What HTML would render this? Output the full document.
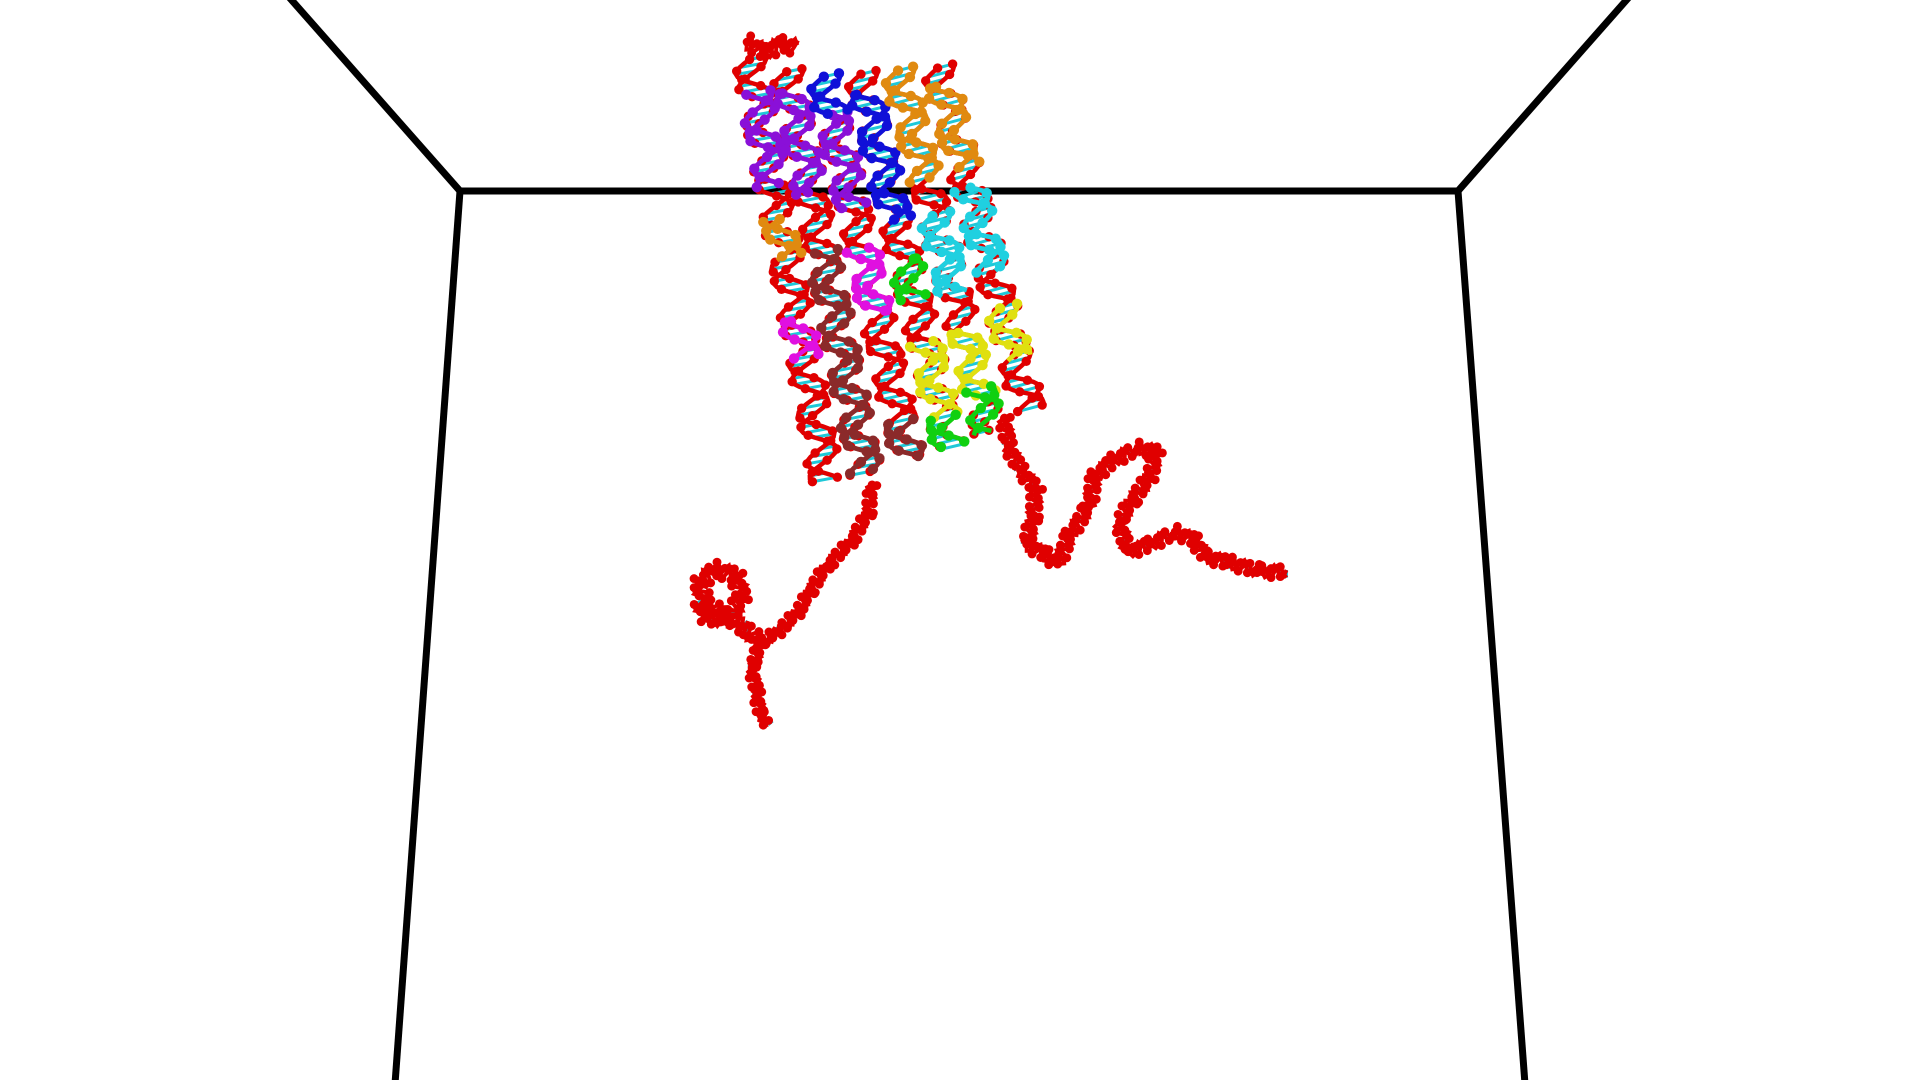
<!DOCTYPE html>
<html><head><meta charset="utf-8"><style>
html,body{margin:0;padding:0;background:#fff;width:1920px;height:1080px;overflow:hidden}
svg{display:block}
</style></head><body>
<svg id="scene" width="1920" height="1080" viewBox="0 0 1920 1080" xmlns="http://www.w3.org/2000/svg">
<g stroke="#000" stroke-width="7" fill="none">
<line x1="288" y1="-4" x2="460" y2="191"/>
<line x1="460" y1="191" x2="1458" y2="191"/>
<line x1="1458" y1="191" x2="1630" y2="-4"/>
<line x1="460" y1="191" x2="395" y2="1084"/>
<line x1="1458" y1="191" x2="1525" y2="1084"/>
</g>
<g id="mol" transform="scale(1.237)"></g>
</svg>
<script>
const helixStarts=[[606,48],[636,58],[666,62],[696,60],[726,57],[758,55]];
const helixEnds=[[668,388],[700,382],[735,372],[768,362],[800,350],[832,332]];
// staple overlays: [helix index, t start, t end, colour]
const patches=[[0,0.08,0.3,'#8a10d8'],[1,0.05,0.3,'#8a10d8'],[2,0.1,0.35,'#8a10d8'],[2,0.0,0.1,'#1010d8'],[3,0.05,0.4,'#1010d8'],
[4,0.0,0.3,'#e08a10'],[5,0.05,0.3,'#e08a10'],[0,0.38,0.48,'#e08a10'],[4,0.4,0.62,'#20d0e0'],[5,0.35,0.6,'#20d0e0'],
[1,0.45,1.0,'#8b2a2a'],[2,0.9,1.0,'#8b2a2a'],[0,0.62,0.72,'#e010e0'],[2,0.45,0.62,'#e010e0'],[3,0.5,0.6,'#10d010'],
[3,0.72,0.92,'#e0e010'],[4,0.72,0.9,'#e0e010'],[5,0.7,0.85,'#e0e010'],[4,0.88,1.0,'#10d010'],[3,0.92,1.0,'#10d010']];
const tail1=[[705,392],[702,415],[688,438],[668,458],[655,478],[645,495],[630,510],[615,520],[608,540],[612,560],[615,578],[622,586]];
const knot1=[[615,520],[600,506],[585,497],[570,488],[565,472],[578,460],[595,465],[600,482],[590,500],[572,500],[565,486]];
const tail2=[[812,338],[815,360],[825,380],[838,395],[835,420],[830,440],[845,448],[855,456],[865,432],[880,410],[885,385],[900,372],[920,362],[935,365],[930,385],[915,405],[905,422],[912,446],[930,440],[950,430],[965,436],[975,450],[995,455],[1020,462],[1042,462]];
const tail3=[[604,34],[618,42],[632,36],[645,38]];
const mol=document.getElementById('mol');
const NS='http://www.w3.org/2000/svg';
function mk(t,a){const e=document.createElementNS(NS,t);for(const k in a)e.setAttribute(k,a[k]);mol.appendChild(e);return e;}
function helixPts(p0,p1,amp,period,t0,t1){
  const dx=p1[0]-p0[0],dy=p1[1]-p0[1],L=Math.hypot(dx,dy),ux=dx/L,uy=dy/L,nx=-uy,ny=ux;
  let a=[],b=[];
  for(let s=L*t0;s<=L*t1;s+=2.5){const ph=s/period*2*Math.PI,x=p0[0]+ux*s,y=p0[1]+uy*s;
    a.push([x+nx*amp*Math.sin(ph),y+ny*amp*Math.sin(ph)]);
    b.push([x-nx*amp*Math.sin(ph+1.3),y-ny*amp*Math.sin(ph+1.3)]);}
  return [a,b];
}
function drawHelix(p0,p1,amp,period,col,sw,rb,name,t0,t1,rungs){
  const [a,b]=helixPts(p0,p1,amp,period,t0,t1);
  if(rungs)for(let i=0;i<a.length;i+=2){const r=mk('line',{x1:a[i][0],y1:a[i][1],x2:b[i][0],y2:b[i][1],stroke:'#1ec8d8','stroke-width':2.4});
    
    }
  [a,b].forEach(pts=>{const pl=mk('polyline',{points:pts.map(p=>p.join(',')).join(' '),fill:'none',stroke:col,'stroke-width':sw});
    
    
    pts.forEach((p,i)=>{if(i%3==0){const c=mk('circle',{cx:p[0],cy:p[1],r:rb,fill:col});
      
      }});});
}
helixStarts.forEach((s,i)=>drawHelix(s,helixEnds[i],13,40,'#e00000',3.6,3.8,'helix-strand',0,1,true));
patches.forEach(p=>drawHelix(helixStarts[p[0]],helixEnds[p[0]],13,40,p[3],3.8,4.2,'staple-strand',p[1],p[2],false));
function tail(pts,amp,name){for(let i=0;i<pts.length-1;i++)drawHelix(pts[i],pts[i+1],amp,13,'#e00000',3.2,3.6,name,0,1,true);}
tail(tail1,4,'tail-strand');tail(knot1,6,'tail-knot');tail(tail2,5,'tail-strand');tail(tail3,6,'tail-strand');
</script>
</body></html>
